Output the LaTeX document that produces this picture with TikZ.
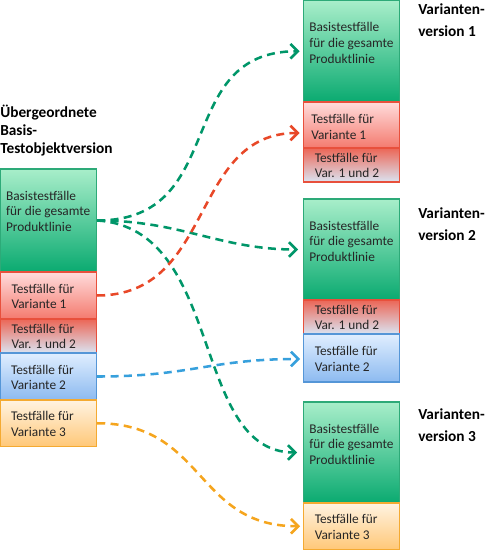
\documentclass[tikz,border=0pt]{standalone}
\usepackage{fontspec}
\setmainfont{Carlito}
\usetikzlibrary{arrows.meta,calc}
\def\pxu{0.75pt}
\definecolor{gTop}{RGB}{168,238,202}
\definecolor{gBot}{RGB}{10,170,112}
\definecolor{gLine}{RGB}{45,170,120}
\definecolor{rTop}{RGB}{255,220,220}
\definecolor{rBot}{RGB}{244,122,110}
\definecolor{rLine}{RGB}{232,80,60}
\definecolor{vTop}{RGB}{236,102,86}
\definecolor{vBot}{RGB}{218,228,242}
\definecolor{bTop}{RGB}{224,238,255}
\definecolor{bBot}{RGB}{140,186,240}
\definecolor{bLine}{RGB}{85,150,215}
\definecolor{oTop}{RGB}{255,243,226}
\definecolor{oBot}{RGB}{255,200,120}
\definecolor{oLine}{RGB}{244,170,50}
\definecolor{aGreen}{RGB}{0,150,105}
\definecolor{aRed}{RGB}{232,72,40}
\definecolor{aBlue}{RGB}{55,160,220}
\definecolor{aOrange}{RGB}{245,165,30}
\definecolor{txt}{RGB}{38,38,38}
\tikzset{
  box/.style={rectangle, inner sep=0pt, line width=1.1pt, minimum width=96*\pxu},
  gbox/.style={box, draw=gLine, top color=gTop, bottom color=gBot},
  rbox/.style={box, draw=rLine, top color=rTop, bottom color=rBot},
  vbox/.style={box, draw=rLine, top color=vTop, bottom color=vBot},
  bbox/.style={box, draw=bLine, top color=bTop, bottom color=bBot},
  obox/.style={box, draw=oLine, top color=oTop, bottom color=oBot},
  btext/.style={inner sep=0pt, align=left, anchor=west, text=txt, font=\fontsize{10}{11.8}\selectfont},
  head/.style={inner sep=0pt, align=left, anchor=base west, text=black, font=\fontsize{11.5}{13.4}\selectfont\bfseries},
  vlab/.style={inner sep=0pt, align=left, anchor=base west, text=black, font=\fontsize{11.5}{16.3}\selectfont\bfseries},
  conn/.style={line width=1.9pt, dash pattern=on 6pt off 4pt,
    -{Straight Barb[length=5.5pt,width=11pt]}},
}
\begin{document}
\begin{tikzpicture}[x=0.75pt,y=-0.75pt]
\useasboundingbox (0,0) rectangle (492,550);
% left stack
\node[gbox, minimum height=103*\pxu] (L1) at (48.5,220.5) {};
\node[rbox, minimum height=47*\pxu] (L2) at (48.5,295.5) {};
\node[vbox, minimum height=34*\pxu] (L3) at (48.5,336) {};
\node[bbox, minimum height=47*\pxu] (L4) at (48.5,376.5) {};
\node[obox, minimum height=46.5*\pxu] (L5) at (48.5,423.25) {};
\node[btext] (L1t) at ($(L1.north west)+(6,43)$) {Basistestfälle\\für die gesamte\\Produktlinie};
\node[btext] (L2t) at ($(L2.west)+(11.5,1)$) {Testfälle für\\Variante 1};
\node[btext] (L3t) at ($(L3.west)+(11.5,0.5)$) {Testfälle für\\Var. 1 und 2};
\node[btext] (L4t) at ($(L4.west)+(11,1)$) {Testfälle für\\Variante 2};
\node[btext] (L5t) at ($(L5.west)+(11,1)$) {Testfälle für\\Variante 3};
\node[head] (H) at (0,153) {Übergeordnete\\Basis-\\Testobjektversion};
% right stack 1
\node[gbox, minimum height=101.5*\pxu] (R1a) at (351.75,51.25) {};
\node[rbox, minimum height=46*\pxu] (R1b) at (351.75,125) {};
\node[vbox, minimum height=34*\pxu] (R1c) at (351.75,165) {};
\node[btext] (R1at) at ($(R1a.north west)+(6,43)$) {Basistestfälle\\für die gesamte\\Produktlinie};
\node[btext] (R1bt) at ($(R1b.west)+(8,2)$) {Testfälle für\\Variante 1};
\node[btext] (R1ct) at ($(R1c.west)+(11.5,0.5)$) {Testfälle für\\Var. 1 und 2};
\node[vlab] (V1) at (418,36) {Varianten-\\version 1};
% right stack 2
\node[gbox, minimum height=101*\pxu] (R2a) at (351.75,249.5) {};
\node[vbox, minimum height=34*\pxu] (R2b) at (351.75,317) {};
\node[bbox, minimum height=48*\pxu] (R2c) at (351.75,358) {};
\node[btext] (R2at) at ($(R2a.north west)+(6,43)$) {Basistestfälle\\für die gesamte\\Produktlinie};
\node[btext] (R2bt) at ($(R2b.west)+(11.5,0.5)$) {Testfälle für\\Var. 1 und 2};
\node[btext] (R2ct) at ($(R2c.west)+(11.5,1)$) {Testfälle für\\Variante 2};
\node[vlab] (V2) at (418,240) {Varianten-\\version 2};
% right stack 3
\node[gbox, minimum height=101*\pxu] (R3a) at (351.75,452.5) {};
\node[obox, minimum height=46.5*\pxu] (R3b) at (351.75,526.25) {};
\node[btext] (R3at) at ($(R3a.north west)+(6,43)$) {Basistestfälle\\für die gesamte\\Produktlinie};
\node[btext] (R3bt) at ($(R3b.west)+(11.5,1)$) {Testfälle für\\Variante 3};
\node[vlab] (V3) at (418,441) {Varianten-\\version 3};
% connectors
\draw[conn, aGreen] (L1.east) .. controls +(133,0) and +(-128,0) .. ($(R1a.west)+(-3.5,0)$);
\draw[conn, aGreen] (L1.east) .. controls +(84,0) and +(-78,0) .. ($(R2a.west)+(-5,0)$);
\draw[conn, aGreen] (L1.east) .. controls +(128,8) and +(-107,0) .. ($(R3a.west)+(-6,0)$);
\draw[conn, aRed] (L2.east) .. controls +(118,0) and +(-110,0) .. ($(R1b.west)+(-3.5,8)$);
\draw[conn, aBlue] (L4.east) .. controls +(94,0) and +(-90,0) .. ($(R2c.west)+(-3,1)$);
\draw[conn, aOrange] (L5.east) .. controls +(108,0) and +(-105,0) .. ($(R3b.west)+(-3,0)$);
\end{tikzpicture}
\end{document}
